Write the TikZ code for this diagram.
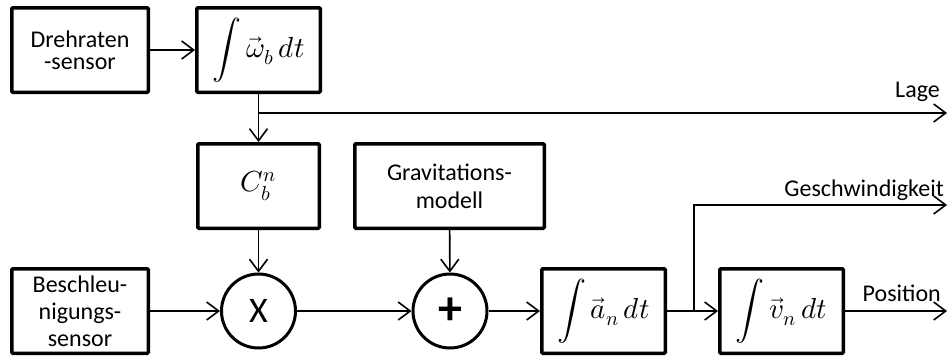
\documentclass[tikz,border=0pt]{standalone}
\usepackage{fontspec}
\usepackage{unicode-math}
\setmainfont{Carlito}
\setmathfont{Latin Modern Math}
\usetikzlibrary{arrows.meta}
\begin{document}
\begin{tikzpicture}[x=1pt,y=-1pt,
  blk/.style={draw, line width=3.5pt, rounded corners=1pt, align=center, inner sep=0pt,
    font=\fontsize{24}{27}\selectfont, minimum height=84.5pt},
  mblk/.style={blk, font=\fontsize{29}{29}\selectfont},
  circ/.style={draw, circle, line width=3pt, minimum size=74pt, inner sep=0pt,
    font=\fontsize{36}{36}\selectfont},
  con/.style={line width=1.6pt, -{Straight Barb[length=12pt,width=18pt,line width=1.6pt]}},
  lbl/.style={font=\fontsize{24}{24}\selectfont, inner sep=0pt}]
\useasboundingbox (0,0) rectangle (947,360);
\node[blk, minimum width=136.5pt, font=\fontsize{24}{22}\selectfont] (dreh) at (80,50) {Drehraten\\-sensor};
\node[mblk, minimum width=123.5pt] (intw) at (258.5,50) {$\displaystyle\int \vec{\omega}_b\, dt$};
\node[mblk, minimum width=121.5pt] (cbn) at (258.5,186) {$C_b^n$};
\node[blk, minimum width=189.5pt, font=\fontsize{24}{28}\selectfont] (grav) at (449.5,186) {Gravitations-\\modell};
\node[blk, minimum width=136.5pt] (besch) at (80,311) {Beschleu-\\nigungs-\\sensor};
\node[circ] (mul) at (258.5,311) {X};
\node[circ, font=\fontsize{48}{48}\selectfont] (add) at (450,311) {\textbf{+}};
\node[mblk, minimum width=123.5pt] (inta) at (603.5,311) {$\displaystyle\int \vec{a}_n\, dt$};
\node[mblk, minimum width=123.5pt] (intv) at (781.5,311) {$\displaystyle\int \vec{v}_n\, dt$};
\coordinate (br1) at (258.5,113);
\coordinate (lageend) at (947,113);
\coordinate (br2) at (694,311);
\coordinate (geschend) at (947,205);
\coordinate (posend) at (947,311);
\draw[con] (dreh) -- (intw);
\draw[con] (intw) -- (cbn);
\draw[con] (br1) -- (lageend);
\draw[con] (cbn) -- (mul);
\draw[con] (grav) -- (add);
\draw[con] (besch) -- (mul);
\draw[con] (mul) -- (add);
\draw[con] (add) -- (inta);
\draw[con] (inta) -- (intv);
\draw[con] (br2) |- (geschend);
\draw[con] (intv) -- (posend);
\node[lbl, anchor=east] (lage) at (940,92) {Lage};
\node[lbl, anchor=east] (gesch) at (944,190) {Geschwindigkeit};
\node[lbl, anchor=east] (pos) at (941,293) {Position};
\end{tikzpicture}
\end{document}
